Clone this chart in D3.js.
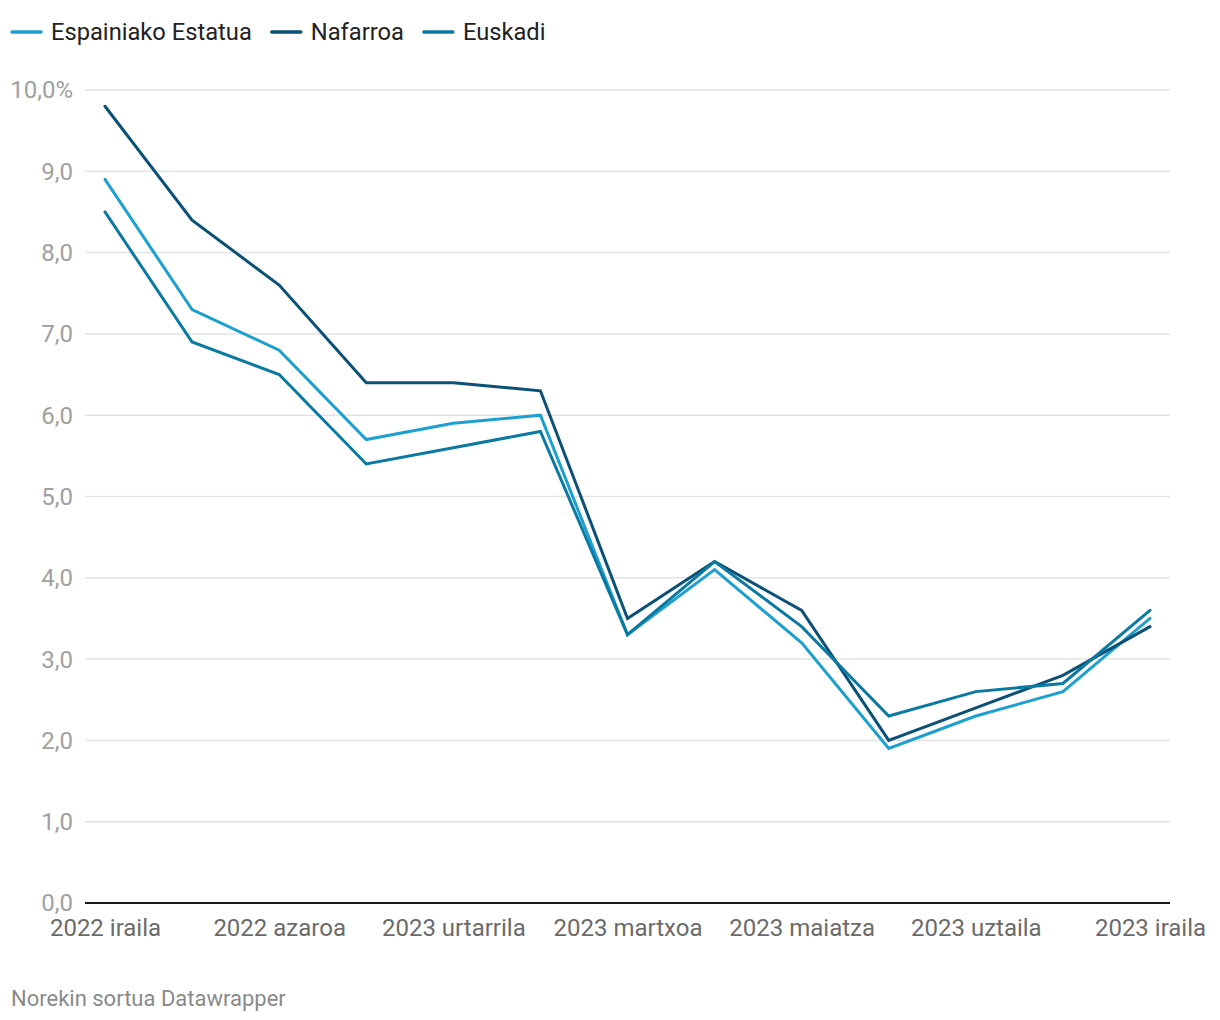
<!DOCTYPE html>
<html><head><meta charset="utf-8">
<script src="https://cdn.jsdelivr.net/npm/d3@7"></script>
<style>
body{margin:0;background:#fff;font-family:Roboto,"Noto Sans",sans-serif;}
</style></head>
<body>
<svg id="c" width="1220" height="1020"></svg>
<script>
const months = ["2022 iraila","2022 urria","2022 azaroa","2022 abendua","2023 urtarrila","2023 otsaila","2023 martxoa","2023 apirila","2023 maiatza","2023 ekaina","2023 uztaila","2023 abuztua","2023 iraila"];
const tickLabels = ["2022 iraila","2022 azaroa","2023 urtarrila","2023 martxoa","2023 maiatza","2023 uztaila","2023 iraila"];
const seriesNames = ["Espainiako Estatua","Nafarroa","Euskadi"];
const espainia = [8.9,7.3,6.8,5.7,5.9,6.0,3.3,4.1,3.2,1.9,2.3,2.6,3.5];
const nafarroa = [9.8,8.4,7.6,6.4,6.4,6.3,3.5,4.2,3.6,2.0,2.4,2.8,3.4];
const euskadi  = [8.5,6.9,6.5,5.4,5.6,5.8,3.3,4.2,3.4,2.3,2.6,2.7,3.6];
const yTicks = [0,1,2,3,4,5,6,7,8,9,10];
const colors = ["#1ba0d0","#0a5077","#0b7aa3"];

const svg = d3.select("#c");
const x = d3.scalePoint().domain(months).range([105,1150]);
const y = d3.scaleLinear().domain([0,10]).range([903,90]);

// y axis labels
const yAxis = d3.axisLeft(y).tickValues(yTicks).tickSize(0).tickPadding(12)
  .tickFormat(d => d3.format(".1f")(d).replace(".",",") + (d===10?"%":""));
const gy = svg.append("g").attr("transform","translate(85,0)").call(yAxis);
gy.select(".domain").remove();
gy.selectAll("text").attr("font-family","Roboto").attr("font-size",24).attr("fill","#a0a0a0").attr("x",-12).attr("dy","0.33em");
// gridlines
svg.append("g").selectAll("line").data(yTicks.filter(d=>d>0)).join("line")
  .attr("x1",85).attr("x2",1170).attr("y1",d=>y(d)).attr("y2",d=>y(d))
  .attr("stroke","#e3e3e3").attr("stroke-width",1.5);

// x axis
const xAxis = d3.axisBottom(x).tickValues(tickLabels).tickSize(0).tickPadding(16);
const gx = svg.append("g").attr("transform","translate(0,903)").call(xAxis);
gx.select(".domain").remove();
gx.selectAll("text").attr("font-family","Roboto").attr("font-size",24).attr("fill","#6b6b6b");
svg.append("line").attr("x1",85).attr("x2",1170).attr("y1",y(0)).attr("y2",y(0)).attr("stroke","#1a1a1a").attr("stroke-width",2);

// lines
const data = [espainia,nafarroa,euskadi];
const line = d3.line().x((d,i)=>x(months[i])).y(d=>y(d));
svg.append("g").selectAll("path").data(data).join("path")
  .attr("d",line).attr("fill","none").attr("stroke",(d,i)=>colors[i])
  .attr("stroke-width",3).attr("stroke-linejoin","miter").attr("stroke-linecap","round");

// legend
const lg = svg.append("g");
let lx = 11;
seriesNames.forEach((name,i)=>{
  const g = lg.append("g").attr("transform",`translate(${lx},32)`);
  g.append("line").attr("x1",1).attr("x2",30).attr("y1",0).attr("y2",0)
    .attr("stroke",colors[i]).attr("stroke-width",3.5).attr("stroke-linecap","round");
  const t = g.append("text").attr("x",40).attr("dy","0.35em").attr("font-family","Roboto").attr("font-size",23.7).attr("fill","#222").text(name);
  lx += 40 + t.node().getComputedTextLength() + 19;
});

// footer
svg.append("text").attr("x",11).attr("y",1006).attr("font-family","Roboto").attr("font-size",22).attr("fill","#8a8a8a").text("Norekin sortua Datawrapper");
</script>
</body></html>
